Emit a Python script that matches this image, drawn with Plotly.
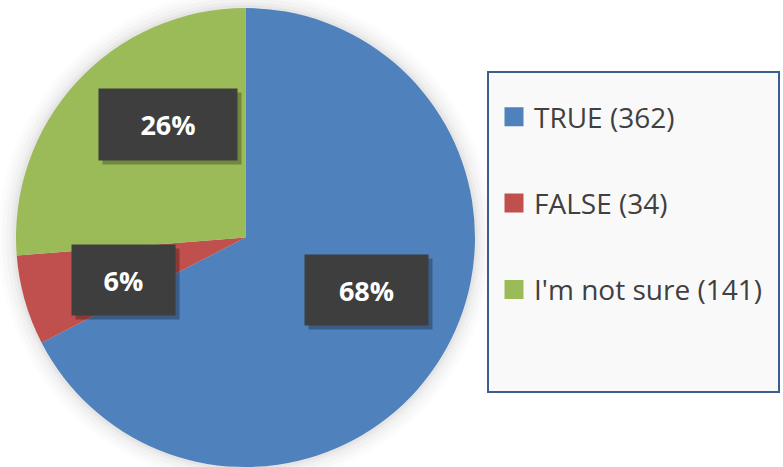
import plotly.graph_objects as go

# ---- data ----
labels = ["TRUE", "FALSE", "I'm not sure"]
values = [362, 34, 141]
colors = ["#4F81BD", "#C0504D", "#9BBB59"]

# ---- styling / layout constants ----
W, H = 783, 467
PIE_CX, PIE_CY, PIE_R = 245.5, 237.5, 229.5
# label boxes: (center x px, center y px, width px, height px)
label_boxes = [(366.5, 290, 123, 70), (123.5, 280, 103, 70), (168, 124.5, 138, 71)]

# percentages (largest-remainder rounding so they sum to 100)
total = sum(values)
raw = [v * 100 / total for v in values]
pct = [int(r) for r in raw]
rem = 100 - sum(pct)
for i in sorted(range(len(raw)), key=lambda i: raw[i] - pct[i], reverse=True)[:rem]:
    pct[i] += 1
pct_text = [f"{p}%" for p in pct]

fig = go.Figure()

fig.add_trace(go.Pie(
    labels=labels, values=values, sort=False, direction="clockwise", rotation=0,
    marker=dict(colors=colors, line=dict(width=0)),
    textinfo="none", hoverinfo="label+value+percent", showlegend=False,
    domain=dict(x=[(PIE_CX - PIE_R) / W, (PIE_CX + PIE_R) / W],
                y=[(H - PIE_CY - PIE_R) / H, (H - PIE_CY + PIE_R) / H]),
))

# legend entries
for lab, val, col in zip(labels, values, colors):
    fig.add_trace(go.Scatter(
        x=[None], y=[None], mode="markers", name=f"{lab} ({val})",
        legendgroup=lab,
        marker=dict(symbol="square", size=16, color=col, line=dict(color=col, width=3)),
    ))

shapes = []
# soft glow around pie
for extra, a in [(18, 0.012), (14, 0.015), (10, 0.02), (6, 0.025), (3, 0.03)]:
    R = PIE_R + extra
    shapes.append(dict(type="circle", xref="paper", yref="paper", layer="below",
                       x0=(PIE_CX - R) / W, x1=(PIE_CX + R) / W,
                       y0=(H - PIE_CY - R) / H, y1=(H - PIE_CY + R) / H,
                       fillcolor=f"rgba(0,0,0,{a})", line=dict(width=0)))
# legend box
shapes.append(dict(type="rect", xref="paper", yref="paper", layer="below",
                   x0=488 / W, x1=779 / W, y0=(H - 392) / H, y1=(H - 72) / H,
                   fillcolor="#F9F9F9", line=dict(color="#3A5D92", width=2)))

annotations = []
for (bx, by, bw, bh), t in zip(label_boxes, pct_text):
    annotations.append(dict(x=bx / W, y=1 - by / H, xref="paper", yref="paper",
                            xanchor="center", yanchor="middle", xshift=4, yshift=-4,
                            text="", width=bw, height=bh, borderpad=0,
                            bgcolor="rgba(0,0,0,0.28)", showarrow=False))
    annotations.append(dict(x=bx / W, y=1 - by / H, xref="paper", yref="paper",
                            xanchor="center", yanchor="middle",
                            text=f"<b>{t}</b>", width=bw, height=bh, borderpad=0,
                            bgcolor="#3E3E3E", showarrow=False,
                            font=dict(family="Open Sans", size=27, color="white")))

fig.update_layout(
    width=W, height=H, margin=dict(l=0, r=0, t=0, b=0),
    paper_bgcolor="white", plot_bgcolor="rgba(0,0,0,0)",
    xaxis=dict(visible=False), yaxis=dict(visible=False),
    showlegend=True,
    legend=dict(x=494 / W, y=1 - 92 / H, xanchor="left", yanchor="top",
                bgcolor="rgba(0,0,0,0)", borderwidth=0, tracegroupgap=47,
                font=dict(family="Open Sans", size=28, color="#404040"),
                itemclick=False, itemdoubleclick=False),
    shapes=shapes, annotations=annotations,
)

fig.write_html("out.html")
